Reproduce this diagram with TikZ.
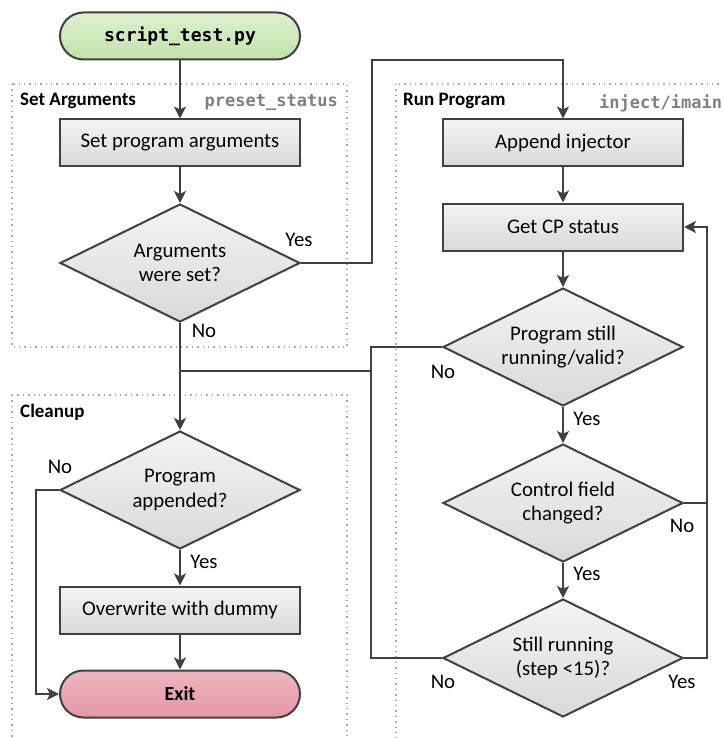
\documentclass[tikz,border=0pt]{standalone}
\usepackage{fontspec}
\setmainfont{Carlito}
\setmonofont{DejaVu Sans Mono}
\usetikzlibrary{shapes.geometric,arrows.meta}
\definecolor{edgec}{HTML}{404040}
\definecolor{boxT}{HTML}{F4F4F4}
\definecolor{boxB}{HTML}{D9D9D9}
\definecolor{greenT}{HTML}{DDF0CF}
\definecolor{greenB}{HTML}{C3E2AA}
\definecolor{pinkT}{HTML}{EDB6C0}
\definecolor{pinkB}{HTML}{E197A4}
\definecolor{groupc}{HTML}{AAAAAA}
\definecolor{monoc}{HTML}{808080}
\tikzset{
  mainfont/.style={font=\fontsize{20.8}{24.5}\selectfont},
  procbox/.style={draw=edgec, line width=2pt, top color=boxT, bottom color=boxB,
    minimum width=240pt, minimum height=47pt, inner sep=0pt, mainfont},
  termbox/.style={draw=edgec, line width=2pt, rounded corners=23.5pt,
    minimum width=240pt, minimum height=47pt, inner sep=0pt},
  decbox/.style={draw=edgec, line width=2pt, shape=diamond, aspect=2.03,
    top color=boxT, bottom color=boxB,
    minimum width=240pt, minimum height=118pt, inner sep=0pt, align=center,
    mainfont},
  conn/.style={draw=edgec, line width=2.3pt},
  arr/.style={conn, -{Stealth[length=12pt,width=12pt,inset=3pt]}},
  lbl/.style={mainfont, text=black, inner sep=0pt},
  grouplbl/.style={font=\fontsize{19}{22}\selectfont\bfseries, inner sep=0pt, anchor=west},
  monolbl/.style={font=\fontsize{17}{20}\selectfont\ttfamily\bfseries, text=monoc, inner sep=0pt},
  groupbox/.style={draw=groupc, line width=1.4pt, dash pattern=on 1.4pt off 4pt},
}
\begin{document}
\begin{tikzpicture}[x=1pt,y=-1pt]
\useasboundingbox (0,0) rectangle (721,738);
\fill[white] (0,0) rectangle (721,738);
% groups
\draw[groupbox] (12,84) rectangle (347,347);
\draw[groupbox] (396,84) rectangle (740,760);
\draw[groupbox] (12,395) rectangle (347,760);
\node[grouplbl] (gSet) at (20,101) {Set Arguments};
\node[monolbl, anchor=east] (gSetM) at (338,103) {preset\_status};
\node[grouplbl] (gRun) at (403,101) {Run Program};
\node[monolbl, anchor=west] (gRunM) at (599,103) {inject/imain};
\node[grouplbl] (gClean) at (20,412) {Cleanup};
% nodes
\node[termbox, top color=greenT, bottom color=greenB,
  font=\fontsize{18}{20}\selectfont\ttfamily\bfseries] (start) at (180,36) {script\_test.py};
\node[procbox] (setargs) at (180,143) {Set program arguments};
\node[decbox] (argset) at (180,263) {Arguments\\were set?};
\node[decbox] (appended) at (180,490) {Program\\appended?};
\node[procbox] (overwrite) at (180,610) {Overwrite with dummy};
\node[termbox, top color=pinkT, bottom color=pinkB,
  font=\fontsize{20}{22}\selectfont\bfseries] (exit) at (180,694) {Exit};
\node[procbox] (append) at (563,143) {Append injector};
\node[procbox] (getcp) at (563,227) {Get CP status};
\node[decbox] (running) at (563,347) {Program still\\running/valid?};
\node[decbox] (control) at (563,503) {Control field\\changed?};
\node[decbox] (still) at (563,658) {Still running\\(step <15)?};
% coordinates
\coordinate (yA) at (372,60);
\coordinate (jL) at (180,371);
\coordinate (jR) at (371,371);
\coordinate (kB) at (371,658);
\coordinate (rT) at (707,227);
\coordinate (rM) at (707,503);
\coordinate (lB) at (36,694);
% connectors
\draw[arr] (start) -- (setargs);
\draw[arr] (setargs) -- (argset);
\draw[arr] (argset.east) -| (yA) -| (append.north);
\draw[arr] (argset.south) -- (appended.north);
\draw[conn] (jL) -- (jR);
\draw[conn] (running.west) -| (kB) -- (still.west);
\draw[arr] (appended.west) -| (lB) -- (exit.west);
\draw[arr] (appended) -- (overwrite);
\draw[arr] (overwrite) -- (exit);
\draw[arr] (append) -- (getcp);
\draw[arr] (getcp) -- (running);
\draw[arr] (running) -- (control);
\draw[arr] (control) -- (still);
\draw[arr] (control.east) -| (rT) -- (getcp.east);
\draw[conn] (still.east) -| (rM);
% labels
\node[lbl] (l1) at (299,240) {Yes};
\node[lbl] (l2) at (204,331) {No};
\node[lbl] (l3) at (443,372) {No};
\node[lbl] (l4) at (587,419) {Yes};
\node[lbl] (l5) at (682,526) {No};
\node[lbl] (l6) at (587,574) {Yes};
\node[lbl] (l7) at (443,682) {No};
\node[lbl] (l8) at (682,682) {Yes};
\node[lbl] (l9) at (60,467) {No};
\node[lbl] (l10) at (204,562) {Yes};
\end{tikzpicture}
\end{document}
